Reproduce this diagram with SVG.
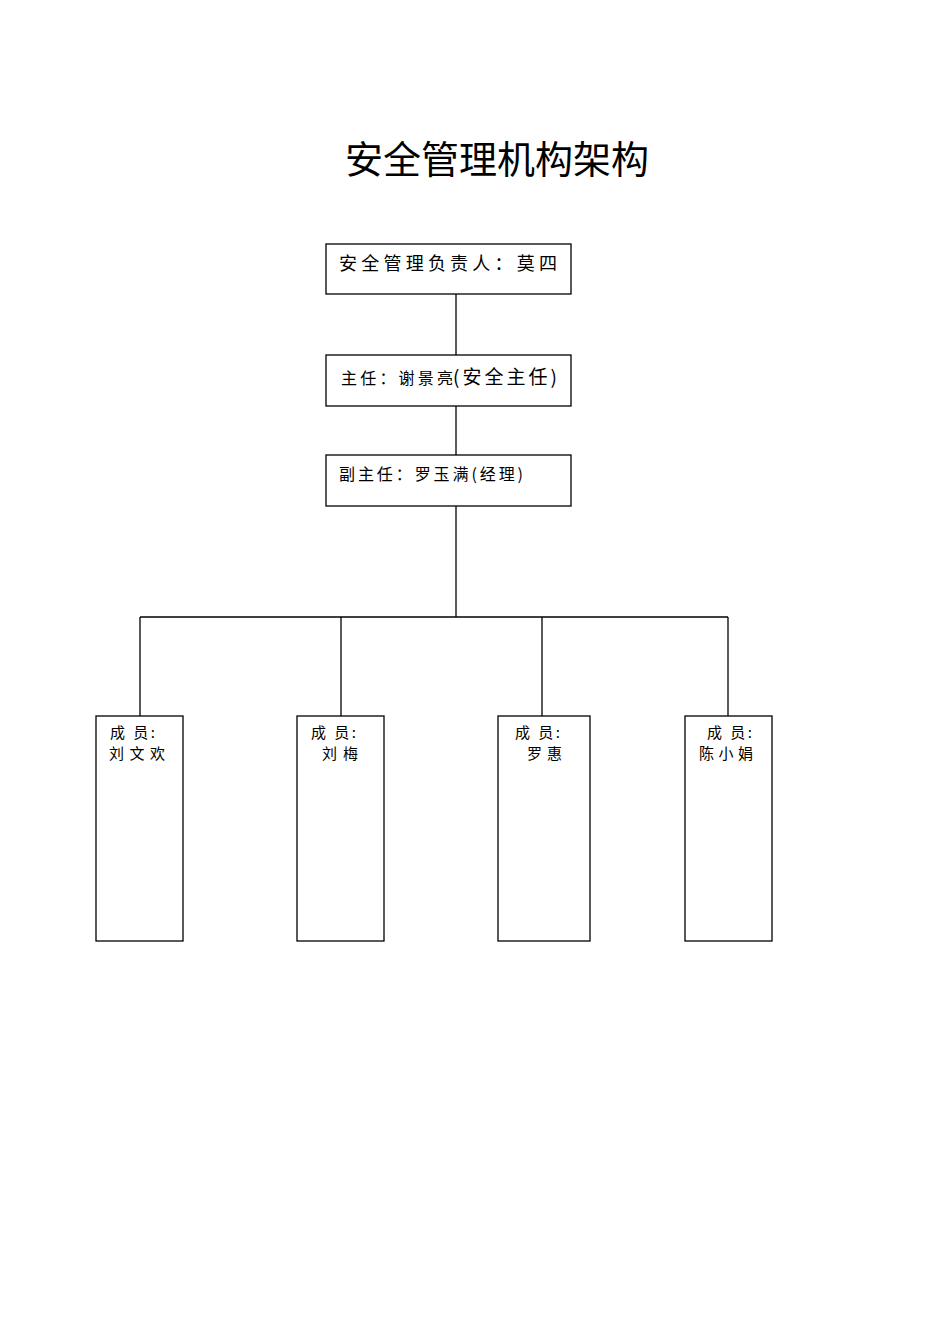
<svg xmlns="http://www.w3.org/2000/svg" width="950" height="1344" viewBox="0 0 950 1344">
<style>
.box{fill:#fff;stroke:#000;stroke-width:1.3}
.ln{stroke:#000;stroke-width:1.3;fill:none}
text{font-family:"Noto Sans CJK SC","Liberation Serif",serif;fill:#000}
.t{font-size:15px}
</style>
<rect width="950" height="1344" fill="#fff"/>
<text x="497" y="173" font-size="38" text-anchor="middle">安全管理机构架构</text>
<g id="connectors">
<line class="ln" x1="456" y1="294" x2="456" y2="355"/>
<line class="ln" x1="456" y1="406" x2="456" y2="455"/>
<line class="ln" x1="456" y1="506" x2="456" y2="617"/>
<line class="ln" x1="140" y1="617" x2="728" y2="617"/>
<line class="ln" x1="140" y1="617" x2="140" y2="716"/>
<line class="ln" x1="341" y1="617" x2="341" y2="716"/>
<line class="ln" x1="542" y1="617" x2="542" y2="716"/>
<line class="ln" x1="728" y1="617" x2="728" y2="716"/>
</g>
<g id="n1">
<rect class="box" x="326" y="244" width="245" height="50"/>
<text x="339" y="270" font-size="18" textLength="218" lengthAdjust="spacing">安全管理负责人：莫四</text>
</g>
<g id="n2">
<rect class="box" x="326" y="355" width="245" height="51"/>
<text x="341" y="384" font-size="16"><tspan textLength="112" lengthAdjust="spacing">主任：谢景亮</tspan><tspan x="453" font-size="19" textLength="104" lengthAdjust="spacing">(安全主任)</tspan></text>
</g>
<g id="n3">
<rect class="box" x="326" y="455" width="245" height="51"/>
<text x="339" y="480" font-size="16" textLength="184" lengthAdjust="spacing">副主任：罗玉满(经理)</text>
</g>
<g id="m1">
<rect class="box" x="96" y="716" width="87" height="225"/>
<text class="t" x="110" y="738" textLength="45" lengthAdjust="spacing">成 员:</text>
<text class="t" x="109" y="759" textLength="56" lengthAdjust="spacing">刘文欢</text>
</g>
<g id="m2">
<rect class="box" x="297" y="716" width="87" height="225"/>
<text class="t" x="311" y="738" textLength="45" lengthAdjust="spacing">成 员:</text>
<text class="t" x="322" y="759" textLength="36" lengthAdjust="spacing">刘梅</text>
</g>
<g id="m3">
<rect class="box" x="498" y="716" width="92" height="225"/>
<text class="t" x="515" y="738" textLength="45" lengthAdjust="spacing">成 员:</text>
<text class="t" x="527" y="759" textLength="35" lengthAdjust="spacing">罗惠</text>
</g>
<g id="m4">
<rect class="box" x="685" y="716" width="87" height="225"/>
<text class="t" x="707" y="738" textLength="45" lengthAdjust="spacing">成 员:</text>
<text class="t" x="699" y="759" textLength="54" lengthAdjust="spacing">陈小娟</text>
</g>
</svg>
